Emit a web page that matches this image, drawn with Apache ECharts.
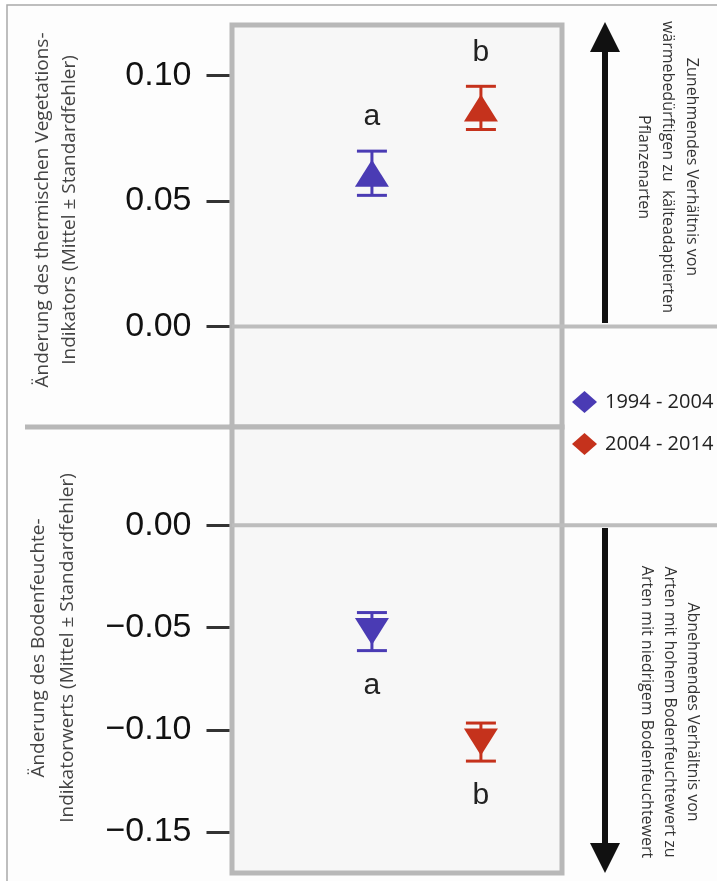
<!DOCTYPE html>
<html>
<head>
<meta charset="utf-8">
<script src="https://cdn.jsdelivr.net/npm/echarts@6/dist/echarts.min.js"></script>
<style>
  html, body { margin: 0; padding: 0; background: #ffffff; }
  #chart { width: 717px; height: 881px; }
</style>
</head>
<body>
<div id="chart"></div>
<script>
// Data
const periods = ['1994 - 2004', '2004 - 2014'];
const periodColors = ['#4a3bb4', '#c5321c'];
const xPos = [1, 2];

// thermal vegetation indicator (top panel)
const thermMean = [0.061, 0.087];
const thermSE = [0.0088, 0.0086];
const thermLetters = ['a', 'b'];
const thermTicks = [0, 0.05, 0.1];

// soil moisture indicator (bottom panel)
const moistMean = [-0.052, -0.106];
const moistSE = [0.0093, 0.0093];
const moistLetters = ['a', 'b'];
const moistTicks = [0, -0.05, -0.1, -0.15];

const chart = echarts.init(document.getElementById('chart'), null, { renderer: 'canvas' });

const boxColor = '#b8b8b8';
const gridBg = '#f7f7f7';

function tickFmt(v) {
    if (Math.abs(v) < 1e-9) return '0.00';
    return (v < 0 ? '\u2212' : '') + Math.abs(v).toFixed(2);
}

function yAxisFor(idx, min, max, ticks) {
    return {
        type: 'value',
        gridIndex: idx,
        position: 'left',
        min: min,
        max: max,
        offset: 2.5,
        axisLine: { show: false, onZero: false },
        splitLine: { show: false },
        axisTick: {
            show: true,
            inside: false,
            length: 23,
            customValues: ticks,
            lineStyle: { color: '#333', width: 3 }
        },
        axisLabel: {
            show: true,
            inside: false,
            customValues: ticks,
            margin: 38,
            formatter: tickFmt,
            color: '#111',
            fontSize: 34,
            fontFamily: 'Liberation Sans, Arial, sans-serif'
        },
        z: 5
    };
}

function xAxisFor(idx) {
    return {
        type: 'value',
        gridIndex: idx,
        min: -0.284,
        max: 2.744,
        show: false
    };
}

// error bars + significance letters
function errorSeries(idx, means, ses, letters, above) {
    return {
        type: 'custom',
        xAxisIndex: idx,
        yAxisIndex: idx,
        z: 2,
        silent: true,
        data: xPos.map((x, i) => [x, means[i], ses[i]]),
        renderItem: function (params, api) {
            const i = params.dataIndex;
            const x = api.value(0), m = api.value(1), s = api.value(2);
            const hi = api.coord([x, m + s]);
            const lo = api.coord([x, m - s]);
            const half = 15;
            const style = { stroke: periodColors[i], lineWidth: 3 };
            const textY = above ? hi[1] - 34 : lo[1] + 35;
            return {
                type: 'group',
                children: [
                    { type: 'line', shape: { x1: hi[0], y1: hi[1], x2: lo[0], y2: lo[1] }, style: style },
                    { type: 'line', shape: { x1: hi[0] - half, y1: hi[1], x2: hi[0] + half, y2: hi[1] }, style: style },
                    { type: 'line', shape: { x1: lo[0] - half, y1: lo[1], x2: lo[0] + half, y2: lo[1] }, style: style },
                    {
                        type: 'text',
                        x: hi[0], y: textY,
                        style: {
                            text: letters[i],
                            fill: '#222',
                            font: '30px Liberation Sans, Arial, sans-serif',
                            align: 'center', verticalAlign: 'middle',
                            textAlign: 'center', textVerticalAlign: 'middle'
                        }
                    }
                ]
            };
        }
    };
}

function pointSeries(idx, pIdx, mean, rotate) {
    return {
        type: 'scatter',
        name: periods[pIdx],
        xAxisIndex: idx,
        yAxisIndex: idx,
        z: 3,
        symbol: 'triangle',
        symbolSize: [34, 27],
        symbolRotate: rotate,
        itemStyle: { color: periodColors[pIdx], opacity: 1 },
        data: [[xPos[pIdx], mean[pIdx]]]
    };
}

const series = [
    errorSeries(0, thermMean, thermSE, thermLetters, true),
    errorSeries(1, moistMean, moistSE, moistLetters, false)
];
for (let p = 0; p < periods.length; p++) {
    series.push(pointSeries(0, p, thermMean, 0));
}
for (let p = 0; p < periods.length; p++) {
    series.push(pointSeries(1, p, moistMean, 180));
}

const titleFont = '19px Open Sans, Noto Sans, sans-serif';
const noteFont = '16px Open Sans, Noto Sans, sans-serif';

function rotText(x, y, rot, text, font, lh, color) {
    return {
        type: 'text',
        x: x, y: y,
        rotation: rot,
        silent: true,
        style: {
            text: text,
            font: font,
            fill: color,
            lineHeight: lh,
            align: 'center', verticalAlign: 'middle',
            textAlign: 'center', textVerticalAlign: 'middle'
        }
    };
}

const staticGraphics = [
    // outer frame
    { type: 'rect', shape: { x: 7, y: 5, width: 730, height: 900 }, style: { fill: '#fdfdfd', stroke: '#a9a9a9', lineWidth: 1.5 }, z: -10, silent: true },
    // separator between panels
    { type: 'line', shape: { x1: 25, y1: 427, x2: 232, y2: 427 }, style: { stroke: boxColor, lineWidth: 5 }, silent: true },
    // axis titles
    rotText(56, 210, Math.PI / 2, 'Änderung des thermischen Vegetations-\nIndikators (Mittel ± Standardfehler)', titleFont, 27, '#444'),
    rotText(53, 648, Math.PI / 2, 'Änderung des Bodenfeuchte-\nIndikatorwerts (Mittel ± Standardfehler)', titleFont, 29, '#444'),
    // arrow up
    { type: 'line', shape: { x1: 605, y1: 323, x2: 605, y2: 48 }, style: { stroke: '#111', lineWidth: 6 }, silent: true },
    { type: 'polygon', shape: { points: [[590, 52], [620, 52], [605, 22]] }, style: { fill: '#111' }, silent: true },
    rotText(668, 167, -Math.PI / 2, 'Zunehmendes Verhältnis von\nwärmebedürftigen zu  kälteadaptierten\nPflanzenarten', noteFont, 24, '#333'),
    // arrow down
    { type: 'line', shape: { x1: 605, y1: 528, x2: 605, y2: 847 }, style: { stroke: '#111', lineWidth: 6 }, silent: true },
    { type: 'polygon', shape: { points: [[590, 843], [620, 843], [605, 873]] }, style: { fill: '#111' }, silent: true },
    rotText(670, 712, -Math.PI / 2, 'Abnehmendes Verhältnis von\nArten mit hohem Bodenfeuchtewert zu\nArten mit niedrigem Bodenfeuchtewert', noteFont, 23, '#333')
];

const option = {
    backgroundColor: '#ffffff',
    animation: false,
    grid: [
        { left: 232, width: 330, top: 25, height: 402, show: true, backgroundColor: gridBg, borderColor: boxColor, borderWidth: 5, containLabel: false, outerBoundsMode: 'none' },
        { left: 232, width: 330, top: 427, height: 446, show: true, backgroundColor: gridBg, borderColor: boxColor, borderWidth: 5, containLabel: false, outerBoundsMode: 'none' }
    ],
    xAxis: [xAxisFor(0), xAxisFor(1)],
    yAxis: [
        yAxisFor(0, -0.04, 0.12, thermTicks),
        yAxisFor(1, -0.17, 0.048, moistTicks)
    ],
    legend: {
        data: periods.map(p => ({ name: p, icon: 'diamond' })),
        orient: 'vertical',
        left: 572,
        top: 391,
        itemWidth: 25,
        itemHeight: 22,
        itemGap: 20,
        padding: 0,
        selectedMode: false,
        textStyle: { fontSize: 20, color: '#222', fontFamily: 'Open Sans, Noto Sans, sans-serif', padding: [0, 0, 0, 3] }
    },
    graphic: staticGraphics,
    series: series
};

chart.setOption(option);

// zero lines run from the panel edge to the right border of the figure
const zeroTop = chart.convertToPixel({ yAxisIndex: 0 }, 0);
const zeroBottom = chart.convertToPixel({ yAxisIndex: 1 }, 0);
chart.setOption({
    graphic: staticGraphics.concat([
        { type: 'line', shape: { x1: 232, y1: zeroTop, x2: 717, y2: zeroTop }, style: { stroke: '#bdbdbd', lineWidth: 4 }, z: 1, silent: true },
        { type: 'line', shape: { x1: 232, y1: zeroBottom, x2: 717, y2: zeroBottom }, style: { stroke: '#bdbdbd', lineWidth: 4 }, z: 1, silent: true }
    ])
});
</script>
</body>
</html>
